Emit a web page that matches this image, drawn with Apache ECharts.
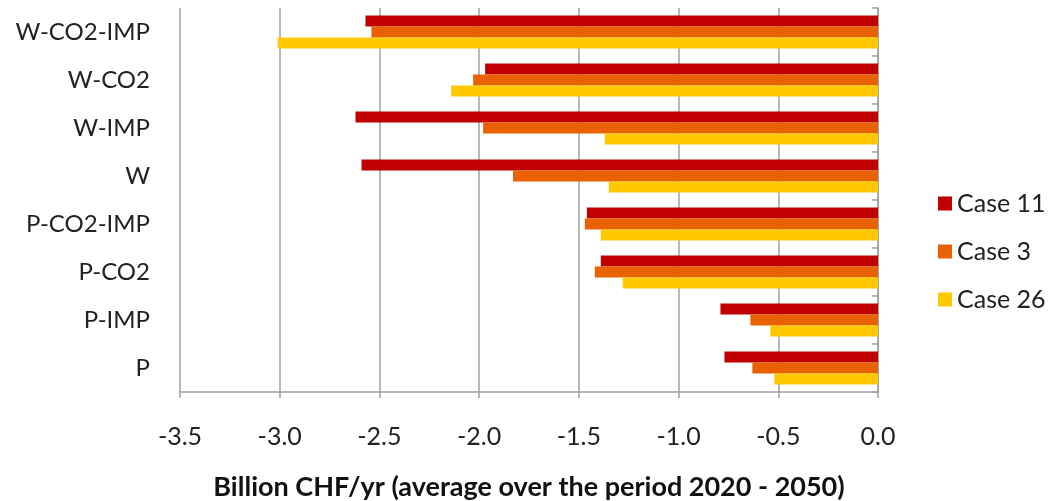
<!DOCTYPE html>
<html><head><meta charset="utf-8">
<script src="https://cdn.jsdelivr.net/npm/echarts@6/dist/echarts.min.js"></script>
<style>html,body{margin:0;padding:0;background:#fff}#c{width:1051px;height:501px}</style>
</head><body><div id="c"></div>
<script>
const categories = ['W-CO2-IMP','W-CO2','W-IMP','W','P-CO2-IMP','P-CO2','P-IMP','P'];
const case11 = [-2.57,-1.97,-2.62,-2.59,-1.46,-1.39,-0.79,-0.77];
const case3  = [-2.54,-2.03,-1.98,-1.83,-1.47,-1.42,-0.64,-0.63];
const case26 = [-3.01,-2.14,-1.37,-1.35,-1.39,-1.28,-0.54,-0.52];
const seriesNames = ['Case 11','Case 3','Case 26'];
const colors = ['#C00000','#E96100','#FFC800'];
const font = 'Lato, "Open Sans", sans-serif';
const chart = echarts.init(document.getElementById('c'));
const data = [case11, case3, case26];
chart.setOption({
  animation:false,
  grid:{left:180,right:173,top:8,bottom:109,containLabel:false,outerBoundsMode:'none'},
  legend:{orient:'vertical',left:933,top:186,itemWidth:14,itemHeight:14,itemGap:23,
    icon:'rect',textStyle:{fontFamily:font,fontSize:25,color:'#222'},data:seriesNames},
  xAxis:{type:'value',min:-3.5,max:0,interval:0.5,
    axisLine:{show:true,onZero:false,lineStyle:{color:'#A0A0A0',width:1.5}},
    axisTick:{show:true,length:6,lineStyle:{color:'#A0A0A0',width:1.5}},
    splitLine:{show:true,lineStyle:{color:'#A0A0A0',width:1.5}},
    axisLabel:{fontFamily:font,fontSize:25,color:'#222',margin:32,formatter:v=>v.toFixed(1)},
    name:'Billion CHF/yr (average over the period 2020 - 2050)',nameLocation:'middle',nameGap:82,
    nameTextStyle:{fontFamily:font,fontSize:27,fontWeight:'bold',color:'#111'}},
  yAxis:[{type:'category',data:categories,inverse:true,position:'left',
    axisLine:{show:false},axisTick:{show:false},
    axisLabel:{fontFamily:font,fontSize:24,color:'#222',margin:30}},
   {type:'category',data:categories,inverse:true,position:'right',
    axisLine:{show:true,lineStyle:{color:'#A0A0A0',width:1.5}},
    axisTick:{show:true,inside:true,length:6,lineStyle:{color:'#A0A0A0',width:1.5}},
    axisLabel:{show:false}}],
  series:seriesNames.map((n,i)=>({name:n,type:'bar',data:data[i],barGap:'0%',barCategoryGap:'31%',
    itemStyle:{color:colors[i]}}))
});
</script></body></html>
